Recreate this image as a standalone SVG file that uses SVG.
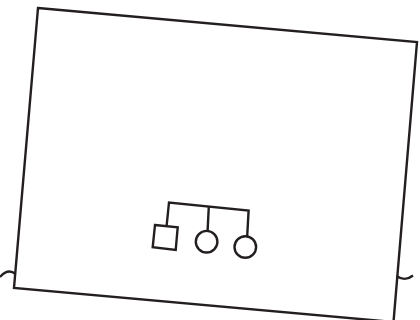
<svg xmlns="http://www.w3.org/2000/svg" width="420" height="320" viewBox="0 0 420 320">
<style>
.ln{fill:none;stroke:#231f20;stroke-width:2.4;stroke-linejoin:miter;stroke-linecap:butt}
.nd{fill:#fff;stroke:#231f20;stroke-width:2.4}
</style>
<rect width="420" height="320" fill="#fff"/>
<g id="frame">
<polygon class="ln" points="38,8 417,42 393.5,322 14,288"/>
<path class="ln" d="M0,277 Q8,268 15.5,274"/>
<path class="ln" d="M396.5,276 Q405,282 413,275.5"/>
</g>
<g id="connectors">
<polyline class="ln" points="166.6,226 169,202.5 248.6,210.5 247.2,236"/>
<line class="ln" x1="208.8" y1="206.5" x2="207.6" y2="230.8"/>
</g>
<g id="male"><polygon class="nd" points="155,225 177.7,227.3 175.7,250 152.7,247.3"/></g>
<g id="female1"><circle class="nd" cx="206.6" cy="241.7" r="10.8"/></g>
<g id="female2"><circle class="nd" cx="245.3" cy="247" r="10.8"/></g>
</svg>
